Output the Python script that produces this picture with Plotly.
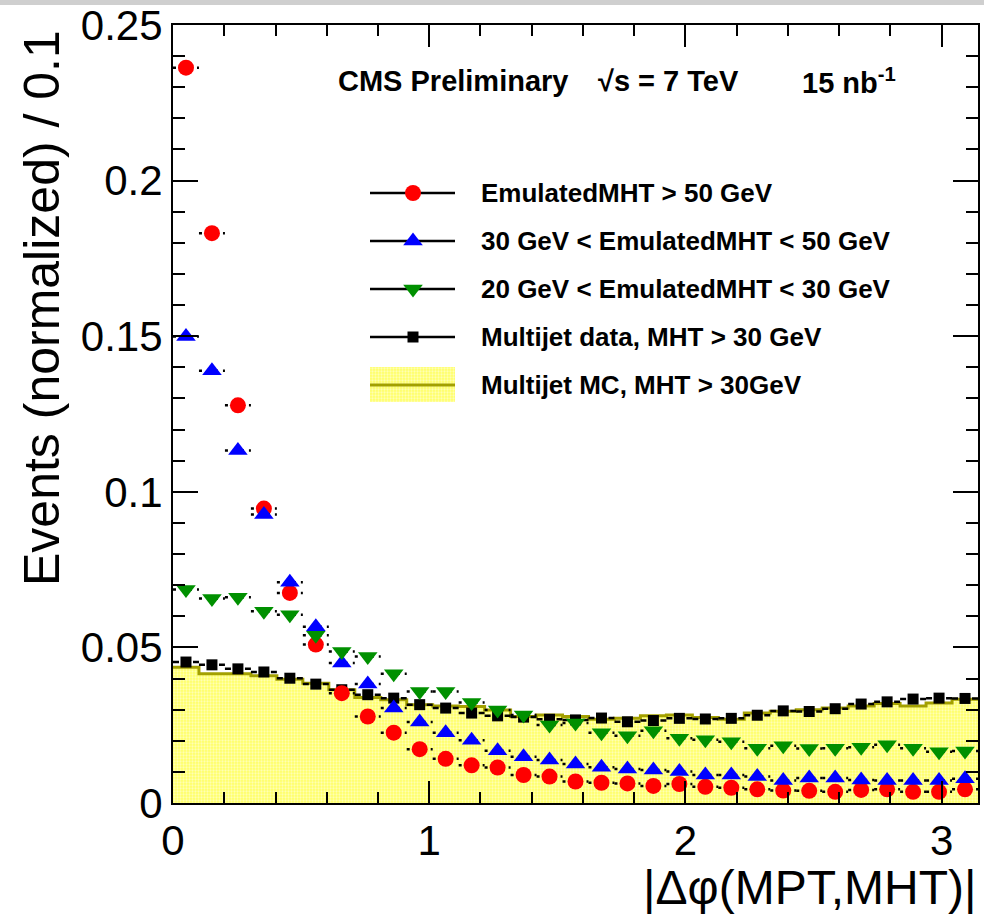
import math
import plotly.graph_objects as go

# ---------------- data ----------------
n_bins = 31
x_max = math.pi
bin_w = x_max / n_bins
x_centers = [(i + 0.5) * bin_w for i in range(n_bins)]

red_mht50 = [0.2363, 0.1831, 0.1278, 0.0946, 0.0675, 0.0509, 0.0353, 0.0278, 0.0226, 0.0173,
             0.0142, 0.0121, 0.0114, 0.0090, 0.0085, 0.0069, 0.0065, 0.0063, 0.0055, 0.0061,
             0.0052, 0.0049, 0.0044, 0.0040, 0.0039, 0.0036, 0.0042, 0.0044, 0.0036, 0.0036,
             0.0044]
blue_mht30_50 = [0.1499, 0.1389, 0.1133, 0.0927, 0.0709, 0.0566, 0.0450, 0.0382, 0.0305, 0.0260,
                 0.0226, 0.0202, 0.0168, 0.0149, 0.0138, 0.0125, 0.0115, 0.0109, 0.0106, 0.0101,
                 0.0090, 0.0090, 0.0085, 0.0072, 0.0080, 0.0080, 0.0074, 0.0072, 0.0072, 0.0072,
                 0.0078]
green_mht20_30 = [0.0686, 0.0657, 0.0661, 0.0616, 0.0605, 0.0539, 0.0487, 0.0471, 0.0415, 0.0358,
                  0.0358, 0.0323, 0.0299, 0.0283, 0.0251, 0.0257, 0.0226, 0.0216, 0.0232, 0.0208,
                  0.0203, 0.0197, 0.0176, 0.0184, 0.0175, 0.0176, 0.0179, 0.0187, 0.0176, 0.0165,
                  0.0167]
multijet_data = [0.0453, 0.0444, 0.0431, 0.0421, 0.0401, 0.0382, 0.0364, 0.0348, 0.0337, 0.0316,
                 0.0305, 0.0289, 0.0280, 0.0276, 0.0269, 0.0267, 0.0273, 0.0261, 0.0265, 0.0272,
                 0.0270, 0.0272, 0.0282, 0.0296, 0.0294, 0.0303, 0.0318, 0.0325, 0.0334, 0.0337,
                 0.0336]
multijet_mc = [0.0436, 0.0415, 0.0415, 0.0409, 0.0398, 0.0385, 0.0364, 0.0339, 0.0332, 0.0316,
               0.0312, 0.0310, 0.0299, 0.0278, 0.0283, 0.0278, 0.0269, 0.0272, 0.0280, 0.0283,
               0.0275, 0.0269, 0.0289, 0.0295, 0.0300, 0.0305, 0.0312, 0.0320, 0.0312, 0.0321,
               0.0333]

legend_labels = ["EmulatedMHT > 50 GeV",
                 "30 GeV < EmulatedMHT < 50 GeV",
                 "20 GeV < EmulatedMHT < 30 GeV",
                 "Multijet data, MHT > 30 GeV",
                 "Multijet MC, MHT > 30GeV"]

x_title = "|Δφ(MPT,MHT)|"
y_title = "Events (normalized) / 0.1"

# ---------------- styling ----------------
FONT = "Liberation Sans, Arial, Helvetica, sans-serif"
W, H = 984, 919
L, R, T, B = 173, 6, 25, 116
PW, PH = W - L - R, H - T - B
OLIVE = "#a3a000"


def px_x(p):
    return (p - L) / PW


def px_y(p):
    return (H - B - p) / PH


def segments(vals):
    xs, ys = [], []
    for i, v in enumerate(vals):
        xs += [i * bin_w, (i + 1) * bin_w, None]
        ys += [v, v, None]
    return xs, ys


fig = go.Figure()

# MC histogram (filled step)
mc_x = [0.0] + x_centers + [x_max]
mc_y = [multijet_mc[0]] + multijet_mc + [multijet_mc[-1]]
fig.add_trace(go.Scatter(
    x=mc_x, y=mc_y, mode="lines", line=dict(color=OLIVE, width=3, shape="hvh"),
    fill="tozeroy", fillcolor="#ffff70",
    fillpattern=dict(shape=".", bgcolor="#ffff66", fgcolor="#ffffff", size=3, solidity=0.45),
    showlegend=False, hoverinfo="skip"))

series = [
    (multijet_data, "square", 11, "black", "6px,4px"),
    (red_mht50, "circle", 16, "#ff0000", "3px,5px"),
    (blue_mht30_50, "triangle-up", 17, "#0000ff", "3px,5px"),
    (green_mht20_30, "triangle-down", 17, "#009000", "3px,5px"),
]
for vals, sym, size, col, dash in series:
    sx, sy = segments(vals)
    fig.add_trace(go.Scatter(x=sx, y=sy, mode="lines",
                             line=dict(color="black", width=2.5, dash=dash),
                             showlegend=False, hoverinfo="skip"))
    fig.add_trace(go.Scatter(x=x_centers, y=vals, mode="markers",
                             marker=dict(symbol=sym, size=size, color=col, line=dict(width=0)),
                             showlegend=False))

# ---------------- manual legend on overlay axes ----------------
leg_x0, leg_x1, leg_xm = px_x(370), px_x(455), px_x(413)
leg_text_x = px_x(479)
rows_px = [193, 241, 289, 337, 385]
leg_marks = [("circle", 16, "#ff0000"), ("triangle-up", 17, "#0000ff"),
             ("triangle-down", 17, "#009000"), ("square", 11, "black")]
for k, (sym, size, col) in enumerate(leg_marks):
    yy = px_y(rows_px[k])
    fig.add_trace(go.Scatter(x=[leg_x0, leg_x1], y=[yy, yy], mode="lines",
                             line=dict(color="black", width=2.5), xaxis="x2", yaxis="y2",
                             showlegend=False, hoverinfo="skip"))
    fig.add_trace(go.Scatter(x=[leg_xm], y=[yy], mode="markers",
                             marker=dict(symbol=sym, size=size, color=col, line=dict(width=0)),
                             xaxis="x2", yaxis="y2", showlegend=False, hoverinfo="skip"))
# MC box
yb0, yb1 = px_y(402), px_y(367)
fig.add_trace(go.Scatter(x=[leg_x0, leg_x1, leg_x1, leg_x0, leg_x0], y=[yb0, yb0, yb1, yb1, yb0],
                         mode="lines", line=dict(width=0), fill="toself", fillcolor="#ffff70",
                         fillpattern=dict(shape=".", bgcolor="#ffff66", fgcolor="#ffffff", size=3, solidity=0.45),
                         xaxis="x2", yaxis="y2", showlegend=False, hoverinfo="skip"))
ym = px_y(rows_px[4])
fig.add_trace(go.Scatter(x=[leg_x0, leg_x1], y=[ym, ym], mode="lines",
                         line=dict(color=OLIVE, width=3), xaxis="x2", yaxis="y2",
                         showlegend=False, hoverinfo="skip"))

annotations = []
for k, lab in enumerate(legend_labels):
    annotations.append(dict(x=leg_text_x, y=px_y(rows_px[k]), xref="paper", yref="paper",
                            text="<b>%s</b>" % lab, showarrow=False, xanchor="left", yanchor="middle",
                            font=dict(family=FONT, size=26, color="black")))

# header text
for txt, xp in [("<b>CMS Preliminary</b>", 336), ("<b>√s = 7 TeV</b>", 596),
                ("<b>15 nb<sup>-1</sup></b>", 800)]:
    annotations.append(dict(x=px_x(xp), y=px_y(81), xref="paper", yref="paper", text=txt,
                            showarrow=False, xanchor="left", yanchor="middle",
                            font=dict(family=FONT, size=29, color="black")))

# axis titles
annotations.append(dict(x=1.0, y=px_y(888), xref="paper", yref="paper", text=x_title,
                        showarrow=False, xanchor="right", yanchor="middle",
                        font=dict(family=FONT, size=48, color="black")))
annotations.append(dict(x=px_x(42), y=px_y(28), xref="paper", yref="paper", text=y_title,
                        showarrow=False, textangle=-90, xanchor="center", yanchor="top",
                        font=dict(family=FONT, size=50, color="black")))

axis_common = dict(showgrid=False, zeroline=False, showline=True, linecolor="black", linewidth=2,
                   mirror="ticks", ticks="inside", tickcolor="black", tickwidth=2, automargin=False,
                   tickfont=dict(family=FONT, size=42, color="black"))

fig.update_layout(
    width=W, height=H,
    margin=dict(l=L, r=R, t=T, b=B),
    paper_bgcolor="white", plot_bgcolor="white",
    showlegend=False,
    xaxis=dict(range=[0, x_max], dtick=1, tick0=0, ticklen=22,
               minor=dict(dtick=0.2, ticklen=11, ticks="inside", tickcolor="black", tickwidth=2),
               **axis_common),
    yaxis=dict(range=[0, 0.25], dtick=0.05, tick0=0, ticklen=25,
               minor=dict(dtick=0.01, ticklen=12, ticks="inside", tickcolor="black", tickwidth=2),
               **axis_common),
    xaxis2=dict(overlaying="x", range=[0, 1], visible=False),
    yaxis2=dict(overlaying="y", range=[0, 1], visible=False),
    annotations=annotations,
    shapes=[dict(type="rect", xref="paper", yref="paper", x0=-0.3, x1=1.1,
                 y0=px_y(5), y1=px_y(-2), fillcolor="#cfcfcf", line=dict(width=0), layer="below")],
)

fig.write_html("out.html")
